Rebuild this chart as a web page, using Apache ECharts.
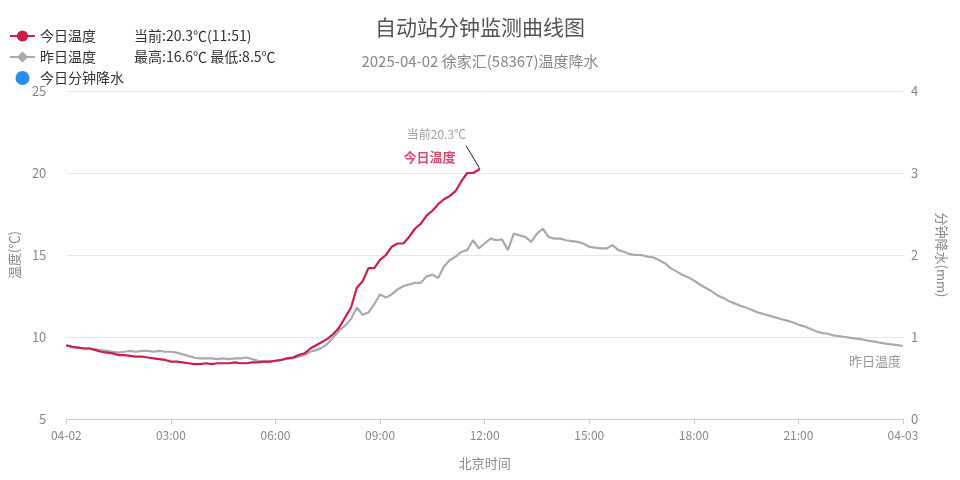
<!DOCTYPE html>
<html>
<head>
<meta charset="utf-8">
<script src="https://cdn.jsdelivr.net/npm/echarts@6/dist/echarts.min.js"></script>
<style>
html,body{margin:0;padding:0;background:#fff;}
#chart{width:960px;height:480px;}
</style>
</head>
<body>
<div id="chart"></div>
<script>
// ---- data (10-minute samples, hours since 00:00 of 04-02) ----
const stepHours = 1 / 6;
const todayTemp = [
  9.5, 9.4, 9.35, 9.3, 9.3, 9.2,
  9.1, 9.05, 9.0, 8.9, 8.9, 8.85,
  8.8, 8.8, 8.75, 8.7, 8.65, 8.6,
  8.5, 8.5, 8.45, 8.4, 8.35, 8.35,
  8.4, 8.35, 8.4, 8.4, 8.4, 8.45,
  8.4, 8.4, 8.45, 8.45, 8.5, 8.5,
  8.55, 8.6, 8.7, 8.75, 8.9, 9.0,
  9.3, 9.5, 9.7, 9.9, 10.2, 10.6,
  11.2, 11.8, 13.0, 13.4, 14.2, 14.2,
  14.7, 15.0, 15.5, 15.7, 15.7, 16.1,
  16.6, 16.9, 17.4, 17.7, 18.1, 18.4,
  18.6, 18.9, 19.5, 20.0, 20.0, 20.2
];
const todayLastTime = 11 + 51 / 60;   // 11:51
const todayLastTemp = 20.3;
const yesterdayTemp = [
  9.5, 9.4, 9.35, 9.3, 9.3, 9.25,
  9.2, 9.15, 9.1, 9.05, 9.1, 9.15,
  9.1, 9.15, 9.15, 9.1, 9.15, 9.1,
  9.1, 9.05, 8.95, 8.85, 8.75, 8.7,
  8.7, 8.7, 8.65, 8.7, 8.65, 8.7,
  8.7, 8.75, 8.65, 8.55, 8.5, 8.5,
  8.55, 8.6, 8.7, 8.7, 8.8, 8.9,
  9.1, 9.2, 9.35, 9.6, 10.0, 10.4,
  10.7, 11.1, 11.8, 11.35, 11.5, 12.0,
  12.6, 12.4, 12.6, 12.9, 13.1, 13.2,
  13.3, 13.3, 13.7, 13.8, 13.6, 14.3,
  14.7, 14.9, 15.2, 15.3, 15.9, 15.4,
  15.7, 16.0, 15.9, 15.95, 15.3, 16.3,
  16.2, 16.1, 15.8, 16.3, 16.6, 16.1,
  16.0, 16.0, 15.9, 15.85, 15.8, 15.7,
  15.5, 15.45, 15.4, 15.4, 15.6, 15.3,
  15.2, 15.05, 15.0, 15.0, 14.9, 14.85,
  14.7, 14.5, 14.2, 14.0, 13.8, 13.65,
  13.45, 13.2, 13.0, 12.8, 12.55, 12.4,
  12.2, 12.05, 11.9, 11.8, 11.65, 11.5,
  11.4, 11.3, 11.2, 11.1, 11.0, 10.9,
  10.75, 10.65, 10.5, 10.35, 10.25, 10.2,
  10.1, 10.05, 10.0, 9.95, 9.9, 9.85,
  9.78, 9.72, 9.66, 9.6, 9.55, 9.5,
  9.45
];
const todayRain = [];  // no precipitation
const xTickLabels = ['04-02', '03:00', '06:00', '09:00', '12:00', '15:00', '18:00', '21:00', '04-03'];
const legendExtra = {
  '今日温度': '当前:20.3℃(11:51)',
  '昨日温度': '最高:16.6℃ 最低:8.5℃',
  '今日分钟降水': ''
};

const todayData = todayTemp.map((v, i) => [i * stepHours, v]);
todayData.push([todayLastTime, todayLastTemp]);
const yesterdayData = yesterdayTemp.map((v, i) => [i * stepHours, v]);

const FONT = '"Noto Sans CJK SC", "Noto Sans", sans-serif';
const RED = '#cc1f47';
const GRAY = '#aaaaaa';

const chart = echarts.init(document.getElementById('chart'));
chart.setOption({
  backgroundColor: '#fff',
  animation: false,
  textStyle: { fontFamily: FONT },
  title: {
    text: '自动站分钟监测曲线图',
    subtext: '2025-04-02 徐家汇(58367)温度降水',
    left: 'center',
    top: 12,
    itemGap: 16,
    textStyle: { fontSize: 21, fontWeight: 'normal', color: '#555', fontFamily: FONT },
    subtextStyle: { fontSize: 15, color: '#888', fontFamily: FONT }
  },
  legend: {
    orient: 'vertical',
    left: 4,
    top: 24,
    itemWidth: 25,
    itemHeight: 14,
    itemGap: 7,
    data: [
      { name: '今日温度' },
      { name: '昨日温度' },
      { name: '今日分钟降水', icon: 'circle' }
    ],
    formatter: function (name) {
      const extra = legendExtra[name];
      return extra ? '{n|' + name + '}{v|' + extra + '}' : '{n|' + name + '}';
    },
    textStyle: {
      fontFamily: FONT,
      color: '#333',
      fontSize: 14,
      rich: {
        n: { fontSize: 14, color: '#333', fontFamily: FONT },
        v: { fontSize: 14, color: '#333', fontFamily: FONT, padding: [0, 0, 0, 38] }
      }
    }
  },
  grid: { left: 65, right: 57, top: 91, bottom: 61 },
  xAxis: {
    type: 'value',
    min: 0,
    max: 24,
    interval: 3,
    name: '北京时间',
    nameLocation: 'middle',
    nameGap: 38,
    nameTextStyle: { color: '#888', fontSize: 13, fontFamily: FONT },
    axisLine: { show: true, lineStyle: { color: '#d0d0d0' } },
    axisTick: { show: true, length: 5, lineStyle: { color: '#d0d0d0' } },
    splitLine: { show: false },
    axisLabel: {
      color: '#888',
      fontSize: 12,
      margin: 10,
      fontFamily: FONT,
      formatter: function (v) { return xTickLabels[Math.round(v / 3)]; }
    }
  },
  yAxis: [
    {
      type: 'value',
      min: 5,
      max: 25,
      interval: 5,
      name: '温度(℃)',
      nameLocation: 'middle',
      nameRotate: 90,
      nameGap: 40,
      nameTextStyle: { color: '#888', fontSize: 13, fontFamily: FONT },
      axisLine: { show: false },
      axisTick: { show: false },
      axisLabel: { color: '#888', fontSize: 13, margin: 20, fontFamily: FONT },
      splitLine: { lineStyle: { color: '#e6e6e6' } }
    },
    {
      type: 'value',
      min: 0,
      max: 4,
      interval: 1,
      position: 'right',
      name: '分钟降水(mm)',
      nameLocation: 'middle',
      nameRotate: -90,
      nameGap: 32,
      nameTextStyle: { color: '#888', fontSize: 13, fontFamily: FONT },
      axisLine: { show: false },
      axisTick: { show: false },
      axisLabel: { color: '#888', fontSize: 13, margin: 8, fontFamily: FONT },
      splitLine: { show: false }
    }
  ],
  series: [
    {
      name: '昨日温度',
      type: 'line',
      data: yesterdayData,
      symbol: 'diamond',
      symbolSize: 8,
      showSymbol: false,
      color: GRAY,
      lineStyle: { width: 2.2, color: GRAY },
      z: 2,
      endLabel: {
        show: true,
        formatter: '昨日温度',
        color: '#999',
        fontSize: 13,
        fontFamily: FONT,
        align: 'right',
        offset: [-10, 15]
      }
    },
    {
      name: '今日温度',
      type: 'line',
      data: todayData,
      symbol: 'circle',
      symbolSize: 8,
      showSymbol: false,
      color: RED,
      lineStyle: { width: 2.2, color: RED },
      z: 3
    },
    {
      name: '今日分钟降水',
      type: 'bar',
      yAxisIndex: 1,
      data: todayRain,
      color: '#2a8cf0'
    },
    {
      name: 'current',
      type: 'scatter',
      data: [[todayLastTime, todayLastTemp]],
      symbolSize: 1,
      itemStyle: { color: 'rgba(0,0,0,0)' },
      silent: true,
      z: 5,
      label: {
        show: true,
        position: 'inside',
        formatter: '{a|当前20.3℃}\n{b|今日温度}',
        rich: {
          a: { color: '#888', fontSize: 12, fontFamily: FONT, lineHeight: 24, padding: [0, 0, 0, 14] },
          b: { color: RED, fontSize: 13, fontWeight: 'bold', fontFamily: FONT, lineHeight: 22 }
        }
      },
      labelLayout: { dx: -50, dy: -23 },
      labelLine: { show: true, lineStyle: { color: '#222', width: 1 } }
    }
  ]
});
</script>
</body>
</html>
